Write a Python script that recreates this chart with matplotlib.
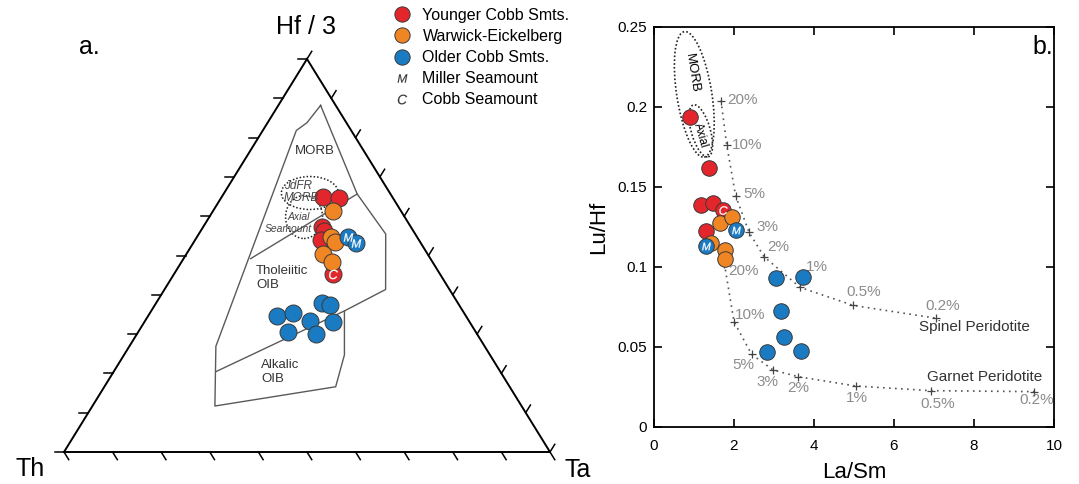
import matplotlib
matplotlib.use('Agg')
import matplotlib.pyplot as plt
from matplotlib.lines import Line2D
from matplotlib.patches import Ellipse
from matplotlib.transforms import Affine2D
import numpy as np

plt.rcParams['font.family'] = ['Liberation Sans', 'DejaVu Sans']
plt.rcParams['mathtext.fontset'] = 'custom'
plt.rcParams['mathtext.it'] = 'Liberation Sans:italic'
plt.rcParams['mathtext.rm'] = 'Liberation Sans'

# ---------------- Ternary data (fractions of Th, Hf/3, Ta) ----------------
younger_th = [0.143, 0.110, 0.183, 0.184, 0.201, 0.220]
younger_hf = [0.650, 0.647, 0.573, 0.563, 0.539, 0.453]
younger_ta = [0.207, 0.243, 0.244, 0.254, 0.260, 0.327]
younger_tag = ['', '', '', '', '', 'C']

warwick_th = [0.139, 0.177, 0.175, 0.215, 0.207]
warwick_hf = [0.614, 0.548, 0.535, 0.504, 0.484]
warwick_ta = [0.247, 0.275, 0.290, 0.281, 0.309]

older_th = [0.141, 0.133, 0.388, 0.352, 0.280, 0.266, 0.327, 0.282, 0.386, 0.332]
older_hf = [0.548, 0.533, 0.346, 0.353, 0.380, 0.374, 0.334, 0.330, 0.305, 0.300]
older_ta = [0.311, 0.334, 0.266, 0.295, 0.340, 0.360, 0.339, 0.388, 0.309, 0.368]
older_tag = ['M', 'M', '', '', '', '', '', '', '', '']

# field outline (MORB + tholeiitic OIB + alkalic OIB)
field_hf = [0.882, 0.838, 0.818, 0.269, 0.117, 0.166, 0.247, 0.359, 0.4135, 0.5547, 0.6565, 0.882]
field_ta = [0.087, 0.081, 0.069, 0.178, 0.252, 0.476, 0.4535, 0.3975, 0.455, 0.3846, 0.275, 0.087]
morb_oib_hf = [0.492, 0.6565]
morb_oib_ta = [0.138, 0.275]
thol_alk_hf = [0.2046, 0.359]
thol_alk_ta = [0.2105, 0.3975]

# dotted reference fields (centre Hf, Ta)
jdfr_hf, jdfr_ta = 0.659, 0.1765
axial_hf, axial_ta = 0.598, 0.195

# ---------------- La/Sm vs Lu/Hf data ----------------
younger_lasm = [0.90, 1.375, 1.175, 1.48, 1.73, 1.29]
younger_luhf = [0.194, 0.162, 0.1388, 0.1398, 0.1356, 0.1227]
younger_tag2 = ['', '', '', '', 'C', '']

warwick_lasm = [1.65, 1.96, 1.43, 1.775, 1.775]
warwick_luhf = [0.1273, 0.131, 0.1148, 0.1106, 0.105]

older_lasm = [2.05, 1.29, 3.05, 3.72, 3.17, 3.26, 2.82, 3.68]
older_luhf = [0.123, 0.113, 0.093, 0.094, 0.0725, 0.056, 0.047, 0.0477]
older_tag2 = ['M', 'M', '', '', '', '', '', '']

melt_pct = ['20%', '10%', '5%', '3%', '2%', '1%', '0.5%', '0.2%']
spinel_lasm = [1.675, 1.82, 2.04, 2.375, 2.75, 3.65, 4.98, 7.05]
spinel_luhf = [0.204, 0.176, 0.1446, 0.1217, 0.1065, 0.0873, 0.076, 0.068]
garnet_lasm = [1.76, 2.0, 2.44, 2.98, 3.61, 5.05, 6.92, 9.5]
garnet_luhf = [0.102, 0.0658, 0.0454, 0.0356, 0.0314, 0.0256, 0.0227, 0.0221]

morb_center = (1.0075, 0.2079)
axial_center = (1.17, 0.1851)

# ---------------- styles ----------------
RED = '#E2262B'
ORANGE = '#EF8523'
BLUE = '#1A7BC3'
EDGE = '#3a3a3a'
PCT = '#8c8c8c'

# label offsets (pixels: right, down) for melting percentages
spinel_off = [(21, -1), (20, 0), (19, -2), (18, -5), (14, -10), (17, -20), (10, -13), (7, -12)]
garnet_off = [(19, 7), (16, -7), (-8, 11), (-6, 12), (0, 11), (1, 12), (7, 13), (3, 8)]

W, H = 1079, 484
fig = plt.figure(figsize=(W / 100, H / 100), dpi=100)

# ================= Ternary =================
TW, TH = 486, 393
axT = fig.add_axes([64 / W, (H - 452) / H, TW / W, TH / H])
axT.set_xlim(0, 1)
axT.set_ylim(0, 1)
axT.axis('off')


def tern(hf, ta):
    hf = np.asarray(hf, float)
    ta = np.asarray(ta, float)
    return ta + hf / 2, hf


axT.plot([0, 1, 0.5, 0], [0, 0, 1, 0], color='k', lw=1.4, clip_on=False,
         solid_joinstyle='miter')

tick_len = 9.0
vr = np.array([243.0, -393.0]); vr /= np.hypot(*vr)   # along right edge, downward
vl = np.array([243.0, 393.0]); vl /= np.hypot(*vl)    # along left edge, upward
for i in range(11):
    t = i / 10
    # bottom edge
    axT.plot([t, t + tick_len * vr[0] / TW], [0, tick_len * vr[1] / TH],
             color='k', lw=1.1, clip_on=False)
    # left edge
    axT.plot([t / 2, t / 2 - tick_len / TW], [t, t], color='k', lw=1.1, clip_on=False)
    # right edge
    xr, yr = 1 - t / 2, t
    axT.plot([xr, xr + tick_len * vl[0] / TW], [yr, yr + tick_len * vl[1] / TH],
             color='k', lw=1.1, clip_on=False)

fx, fy = tern(field_hf, field_ta)
axT.plot(fx, fy, color='#5a5a5a', lw=1.0)
lx, ly = tern(morb_oib_hf, morb_oib_ta)
axT.plot(lx, ly, color='#5a5a5a', lw=1.0)
lx, ly = tern(thol_alk_hf, thol_alk_ta)
axT.plot(lx, ly, color='#5a5a5a', lw=1.0)

pxT = Affine2D().scale(1 / TW, 1 / TH) + axT.transData
for (chf, cta, w, h) in [(jdfr_hf, jdfr_ta, 57, 33), (axial_hf, axial_ta, 37, 43)]:
    cx, cy = tern(chf, cta)
    axT.add_patch(Ellipse((float(cx) * TW, float(cy) * TH), w, h, fill=False,
                          ls=(0, (1, 1.3)), lw=1.1, ec='#222222', transform=pxT))

for hf, ta, col in [(younger_hf, younger_ta, RED), (warwick_hf, warwick_ta, ORANGE),
                    (older_hf, older_ta, BLUE)]:
    x, y = tern(hf, ta)
    axT.scatter(x, y, s=150, c=col, edgecolors=EDGE, linewidths=0.7, zorder=3)
for hf, ta, tags in [(younger_hf, younger_ta, younger_tag), (older_hf, older_ta, older_tag)]:
    x, y = tern(hf, ta)
    for xi, yi, tg in zip(x, y, tags):
        if tg:
            axT.scatter([xi], [yi], marker=f'${tg}$', s=45, c='white', lw=0.2, zorder=4)


def tpos(px, py):
    return (px - 64) / TW, (452 - py) / TH


axT.text(*tpos(314.5, 151), 'MORB', fontsize=9.5, color='#333', ha='center', va='center')
axT.text(*tpos(298, 186), 'JdFR', fontsize=8.5, style='italic', color='#444', ha='center', va='center')
axT.text(*tpos(301, 198), 'MORB', fontsize=8.5, style='italic', color='#444', ha='center', va='center')
axT.text(*tpos(299, 217), 'Axial', fontsize=7.5, style='italic', color='#444', ha='center', va='center')
axT.text(*tpos(288, 229), 'Seamount', fontsize=7.5, style='italic', color='#444', ha='center', va='center')
axT.text(*tpos(256, 271), 'Tholeiitic', fontsize=9.5, color='#333', ha='left', va='center')
axT.text(*tpos(256, 284.5), 'OIB', fontsize=9.5, color='#333', ha='left', va='center')
axT.text(*tpos(261, 365), 'Alkalic', fontsize=9.5, color='#333', ha='left', va='center')
axT.text(*tpos(261, 378.5), 'OIB', fontsize=9.5, color='#333', ha='left', va='center')

fig.text(306 / W, 1 - 27 / H, 'Hf / 3', fontsize=18, ha='center', va='center')
fig.text(30 / W, 1 - 469 / H, 'Th', fontsize=18, ha='center', va='center')
fig.text(578 / W, 1 - 470 / H, 'Ta', fontsize=18, ha='center', va='center')
fig.text(89 / W, 1 - 47 / H, 'a.', fontsize=18, ha='center', va='center')

# ================= La/Sm vs Lu/Hf =================
axR = fig.add_axes([654 / W, (H - 427) / H, 400 / W, 400 / H])
axR.set_xlim(0, 10)
axR.set_ylim(0, 0.25)
axR.set_xticks([0, 2, 4, 6, 8, 10])
axR.set_yticks([0, 0.05, 0.1, 0.15, 0.2, 0.25])
axR.set_yticklabels(['0', '0.05', '0.1', '0.15', '0.2', '0.25'])
axR.tick_params(direction='in', length=6, width=1.2, top=True, right=True,
                labelsize=11, colors='k')
axR.tick_params(axis='x', pad=9)
axR.tick_params(axis='y', pad=5)
for sp in axR.spines.values():
    sp.set_linewidth(1.3)
axR.set_xlabel('La/Sm', fontsize=16, labelpad=6)
axR.set_ylabel('Lu/Hf', fontsize=16, labelpad=6)

pxR = Affine2D().scale(10 / 400, 0.25 / 400) + axR.transData
axR.add_patch(Ellipse((morb_center[0] * 40, morb_center[1] * 1600), 35, 127, angle=9,
                      fill=False, ls=(0, (1, 1.3)), lw=1.2, ec='#222', transform=pxR))
axR.add_patch(Ellipse((axial_center[0] * 40, axial_center[1] * 1600), 19, 54, angle=16,
                      fill=False, ls=(0, (1, 1.3)), lw=1.2, ec='#222', transform=pxR))
axR.text(0.95, 0.221, 'MORB', rotation=-81, fontsize=9.5, ha='center', va='center',
         rotation_mode='anchor')
axR.text(1.15, 0.1825, 'Axial', rotation=-74, fontsize=8.5, ha='center', va='center',
         rotation_mode='anchor')

for xs, ys, offs in [(spinel_lasm, spinel_luhf, spinel_off), (garnet_lasm, garnet_luhf, garnet_off)]:
    axR.plot(xs, ys, ls=(0, (1, 2.6)), color='#555', lw=1.2, zorder=2)
    axR.plot(xs, ys, ls='', marker='+', ms=6, mew=0.9, color='#444', zorder=2)
    for x, y, lab, (dx, dy) in zip(xs, ys, melt_pct, offs):
        axR.annotate(lab, (x, y), xytext=(dx * 0.72, -dy * 0.72), textcoords='offset points',
                     ha='center', va='center', fontsize=11, color=PCT)

axR.text(8.0, 0.0623, 'Spinel Peridotite', fontsize=11, color='#333', ha='center', va='center')
axR.text(8.275, 0.0314, 'Garnet Peridotite', fontsize=11, color='#333', ha='center', va='center')

for xs, ys, col in [(younger_lasm, younger_luhf, RED), (warwick_lasm, warwick_luhf, ORANGE),
                    (older_lasm, older_luhf, BLUE)]:
    axR.scatter(xs, ys, s=125, c=col, edgecolors=EDGE, linewidths=0.7, zorder=3)
for xs, ys, tags in [(younger_lasm, younger_luhf, younger_tag2), (older_lasm, older_luhf, older_tag2)]:
    for xi, yi, tg in zip(xs, ys, tags):
        if tg:
            axR.scatter([xi], [yi], marker=f'${tg}$', s=38, c='white', lw=0.2, zorder=4)

fig.text(1043 / W, 1 - 47 / H, 'b.', fontsize=18, ha='center', va='center')

# ================= Legend =================
handles = [
    Line2D([], [], ls='', marker='o', ms=11, mfc=RED, mec=EDGE, mew=0.7),
    Line2D([], [], ls='', marker='o', ms=11, mfc=ORANGE, mec=EDGE, mew=0.7),
    Line2D([], [], ls='', marker='o', ms=11, mfc=BLUE, mec=EDGE, mew=0.7),
    Line2D([], [], ls='', marker='$M$', ms=7, mew=0.1, color='#333'),
    Line2D([], [], ls='', marker='$C$', ms=7, mew=0.1, color='#333'),
]
labels = ['Younger Cobb Smts.', 'Warwick-Eickelberg', 'Older Cobb Smts.',
          'Miller Seamount', 'Cobb Seamount']
fig.legend(handles, labels, loc='upper left', bbox_to_anchor=(393.7 / W, 1 - 8 / H),
           frameon=False, fontsize=11.5, handlelength=1.0, handletextpad=0.8,
           labelspacing=0.38, borderpad=0, borderaxespad=0)

fig.savefig('out.png', dpi=100)
